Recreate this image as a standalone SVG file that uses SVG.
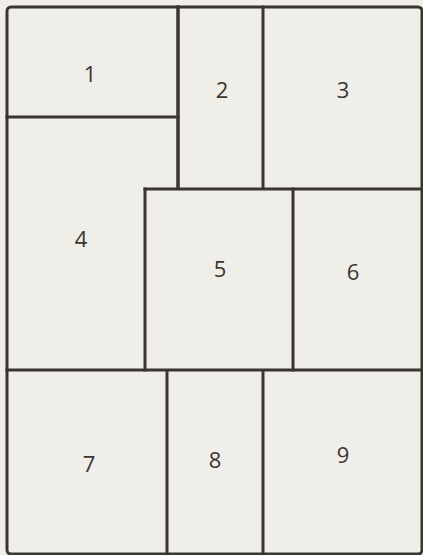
<svg xmlns="http://www.w3.org/2000/svg" width="423" height="555" viewBox="0 0 423 555">
<style>
.ln{stroke:#3b3531;stroke-width:3;fill:none;stroke-linecap:square}
.lb{font-family:"Open Sans","Liberation Sans",sans-serif;font-size:22px;fill:#3b3531;text-anchor:middle}
</style>
<rect x="0" y="0" width="423" height="555" fill="#efeee8"/>
<g id="outline">
<rect class="ln" x="7" y="7" width="415" height="547" rx="4"/>
</g>
<g id="dividers">
<path class="ln" d="M7 117H178"/>
<path class="ln" d="M178 7V187" style="stroke-width:3.5"/>
<path class="ln" d="M263 7V187"/>
<path class="ln" d="M145 189H422"/>
<path class="ln" d="M145 189V370"/>
<path class="ln" d="M293 189V370"/>
<path class="ln" d="M7 370H422"/>
<path class="ln" d="M167 371V554"/>
<path class="ln" d="M263 371V554"/>
</g>
<g id="p1"><text class="lb" x="90" y="82">1</text></g>
<g id="p2"><text class="lb" x="222" y="98">2</text></g>
<g id="p3"><text class="lb" x="343" y="98">3</text></g>
<g id="p4"><text class="lb" x="81" y="247">4</text></g>
<g id="p5"><text class="lb" x="220" y="277">5</text></g>
<g id="p6"><text class="lb" x="353" y="280">6</text></g>
<g id="p7"><text class="lb" x="89" y="472">7</text></g>
<g id="p8"><text class="lb" x="215" y="468">8</text></g>
<g id="p9"><text class="lb" x="343" y="463">9</text></g>
</svg>
